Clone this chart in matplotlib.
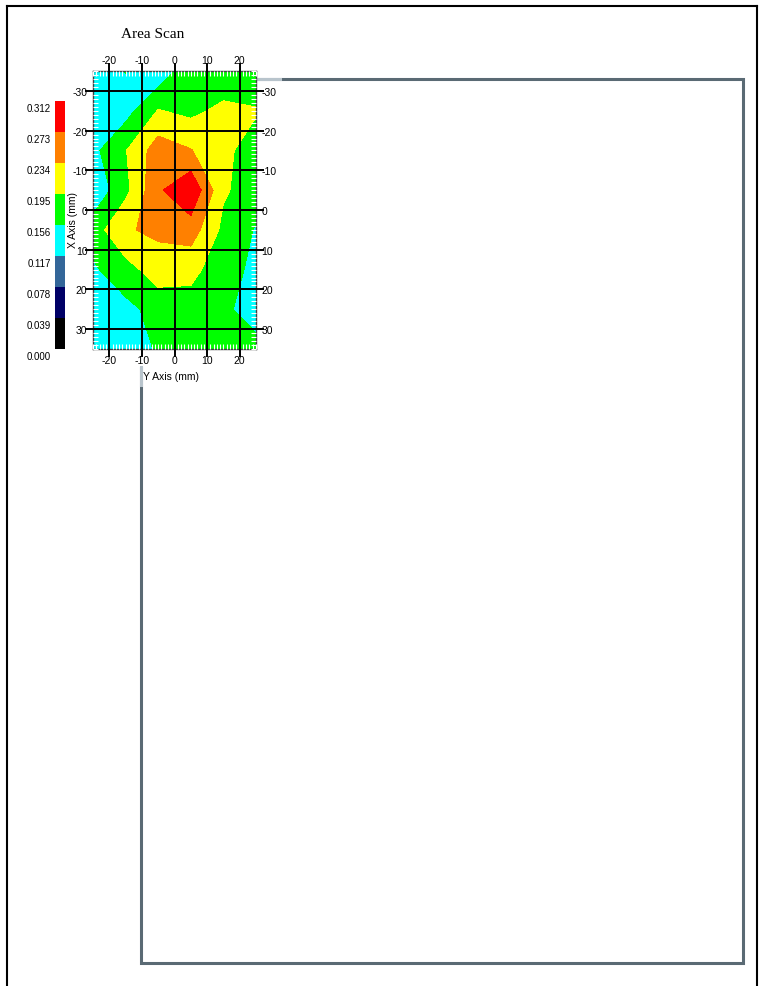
import numpy as np
import matplotlib.pyplot as plt
from matplotlib.patches import Rectangle
from matplotlib.lines import Line2D
from matplotlib.ticker import MultipleLocator
from matplotlib.transforms import ScaledTranslation

plt.rcParams['font.family'] = ['Liberation Sans', 'DejaVu Sans']
plt.rcParams['axes.unicode_minus'] = False

# scan grid (mm): horizontal = "Y Axis", vertical = "X Axis"
y_pos = [-25, -15, -5, 5, 15, 25]
x_pos = [-35, -25, -15, -5, 5, 15, 25, 35]

# measured values, one row per X position
row_x_m35 = [0.130, 0.157, 0.126, 0.185, 0.165, 0.175]
row_x_m25 = [0.130, 0.141, 0.197, 0.185, 0.205, 0.197]
row_x_m15 = [0.146, 0.193, 0.255, 0.236, 0.200, 0.185]
row_x_m05 = [0.126, 0.184, 0.267, 0.307, 0.200, 0.175]
row_x_p05 = [0.175, 0.230, 0.242, 0.254, 0.185, 0.153]
row_x_p15 = [0.150, 0.180, 0.215, 0.205, 0.175, 0.145]
row_x_p25 = [0.130, 0.145, 0.170, 0.180, 0.165, 0.135]
row_x_p35 = [0.130, 0.135, 0.160, 0.175, 0.170, 0.170]

levels = [0.000, 0.039, 0.078, 0.117, 0.156, 0.195, 0.234, 0.273, 0.312]
level_colors = ['#000000', '#000066', '#336699', '#00ffff',
                '#00ff00', '#ffff00', '#ff8000', '#ff0000']

x_ticks = [-20, -10, 0, 10, 20]
y_ticks = [-30, -20, -10, 0, 10, 20, 30]

W, H = 761, 987


def fx(px):
    return px / W


def fy(py):
    return 1 - py / H


Z = np.array([row_x_m35, row_x_m25, row_x_m15, row_x_m05,
              row_x_p05, row_x_p15, row_x_p25, row_x_p35])

fig = plt.figure(figsize=(W / 100, H / 100), dpi=100)

# page frame and the large (empty) panel behind the chart
fig.add_artist(Line2D([fx(6.5), fx(6.5)], [fy(6.5), fy(987)], transform=fig.transFigure,
                      color='black', lw=1.5, zorder=-3))
fig.add_artist(Line2D([fx(6.5), fx(757)], [fy(6.5), fy(6.5)], transform=fig.transFigure,
                      color='black', lw=1.5, zorder=-3))
fig.add_artist(Line2D([fx(757), fx(757)], [fy(6.5), fy(987)], transform=fig.transFigure,
                      color='black', lw=1.5, zorder=-3))
fig.add_artist(Rectangle((fx(141), fy(964)), fx(743) - fx(141), fy(80) - fy(964),
                         transform=fig.transFigure, fill=False, edgecolor='#5a6a74',
                         lw=2.2, zorder=-2))
fig.add_artist(Rectangle((fx(12), fy(368)), fx(256) - fx(12), fy(12) - fy(368),
                         transform=fig.transFigure, facecolor='white', edgecolor='none',
                         zorder=-1))
fig.add_artist(Line2D([fx(256), fx(280)], [fy(80), fy(80)], transform=fig.transFigure,
                      color='#b8c4cc', lw=2.2, zorder=-0.5))
fig.add_artist(Line2D([fx(141), fx(141)], [fy(368), fy(386)], transform=fig.transFigure,
                      color='#b8c4cc', lw=2.2, zorder=-0.5))

# contour map
ax = fig.add_axes([fx(93), fy(350), fx(256) - fx(93), fy(72) - fy(350)])
cs = ax.contourf(y_pos, x_pos, Z, levels=levels, colors=level_colors)
ax.set_xlim(-25, 25)
ax.set_ylim(35, -35)
ax.set_xticks(x_ticks)
ax.set_yticks(y_ticks)
ax.set_axisbelow(False)
ax.grid(True, color='black', linewidth=1.4)
ax.xaxis.set_minor_locator(MultipleLocator(1))
ax.yaxis.set_minor_locator(MultipleLocator(1))
ax.tick_params(which='major', direction='out', length=6, width=1.4, color='black',
               top=True, right=True, labeltop=True, labelright=True,
               labelsize=7.5, pad=-2)
ax.tick_params(which='minor', direction='in', length=3.5, width=0.8, color='white',
               top=True, right=True)
for s in ax.spines.values():
    s.set_color('#404040')
    s.set_linewidth(1)

# colour legend
cax = fig.add_axes([fx(55), fy(350), fx(65) - fx(55), fy(102) - fy(350)])
cb = fig.colorbar(cs, cax=cax, ticks=levels, format='%.3f')
cb.outline.set_visible(False)
cax.yaxis.set_ticks_position('left')
cax.tick_params(length=0, pad=3, labelsize=7)
shift = ScaledTranslation(0, -0.06, fig.dpi_scale_trans)
for lab in cax.get_yticklabels():
    lab.set_transform(lab.get_transform() + shift)

fig.text(fx(153), fy(34), 'Area Scan', family='Liberation Serif', fontsize=11,
         ha='center', va='center')
fig.text(fx(171), fy(377), 'Y Axis (mm)', fontsize=7.5, ha='center', va='center')
fig.text(fx(73), fy(220), 'X Axis (mm)', fontsize=7.5, rotation=90,
         ha='center', va='center')

fig.savefig('out.png', dpi=100)
